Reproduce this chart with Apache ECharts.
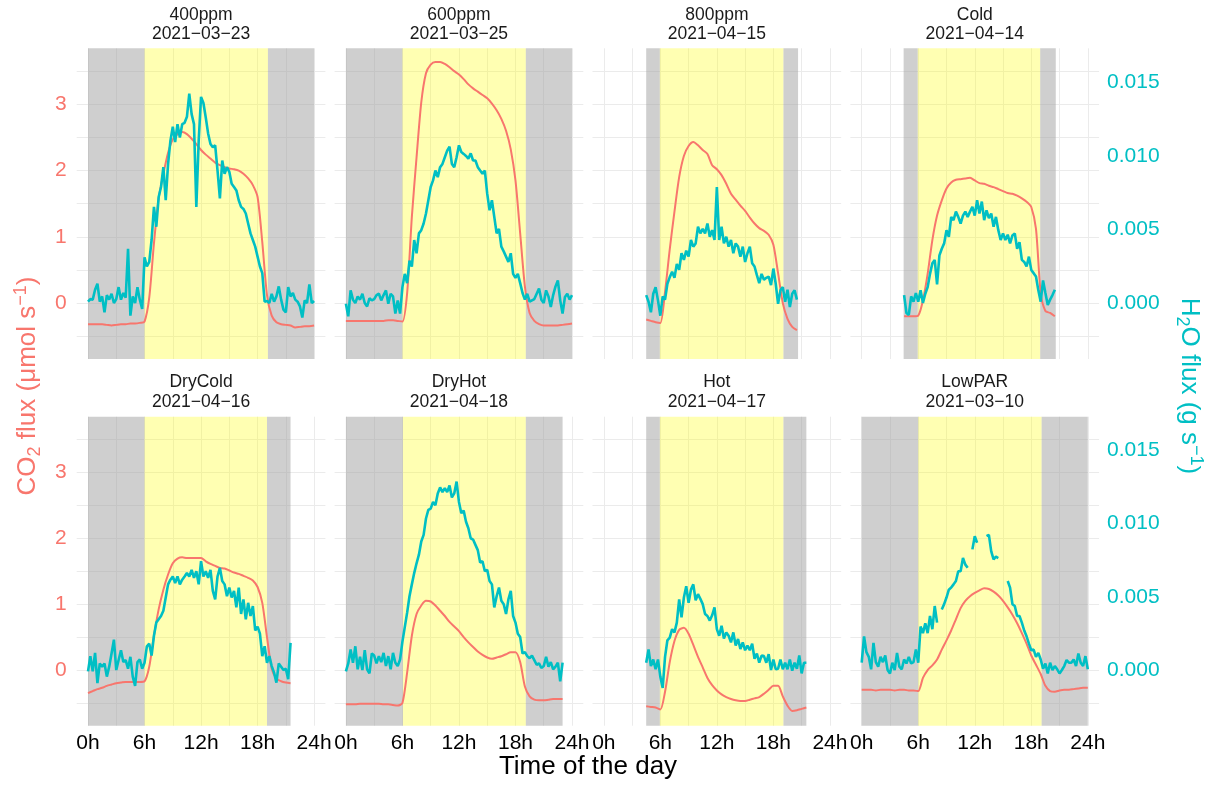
<!DOCTYPE html>
<html><head><meta charset="utf-8">
<script src="https://cdn.jsdelivr.net/npm/echarts@6/dist/echarts.min.js"></script>
<style>html,body{margin:0;padding:0;background:#fff}#c{width:1211px;height:785px}</style>
</head><body><div id="c"></div>
<script>
// ---------- data ----------
const panelNames = ['400ppm','600ppm','800ppm','Cold','DryCold','DryHot','Hot','LowPAR'];
const panelDates = ['2021−03−23','2021−03−25','2021−04−15','2021−04−14','2021−04−16','2021−04−18','2021−04−17','2021−03−10'];

// time (hours) of first sample for each panel; CO2 every 0.5 h, H2O every 0.25 h
const co2Start = [0, 0, 4.5, 4.5, 0, 0, 4.5, 0];
const h2oStart = [0, 0, 4.5, 4.5, 0, 0, 4.5, 0];
const co2Step = 0.5;
const h2oStep = 0.25;

// night / day periods (hours)
const nightStart = [0, 0, 4.5, 4.45, 0, 0, 4.5, 0];
const sunrise    = [6, 6, 5.95, 5.95, 6, 6.05, 5.95, 6];
const sunset     = [19.1, 19.1, 19.07, 18.95, 19.0, 19.1, 19.07, 19.1];
const nightEnd   = [24, 24, 20.62, 20.6, 21.5, 23, 21.5, 24];

// CO2 flux (µmol s-1)
const co2_400ppm = [-0.32,-0.32,-0.32,-0.32,-0.33,-0.34,-0.33,-0.32,-0.32,-0.31,-0.31,-0.3,-0.28,0.08,0.9,1.58,1.95,2.27,2.47,2.55,2.58,2.55,2.48,2.4,2.31,2.24,2.18,2.12,2.08,2.05,2.03,2.02,2.0,1.95,1.88,1.78,1.6,0.92,0.12,-0.19,-0.29,-0.32,-0.33,-0.34,-0.37,-0.36,-0.35,-0.35,-0.34];
const co2_600ppm = [-0.27,-0.27,-0.27,-0.27,-0.27,-0.27,-0.27,-0.27,-0.27,-0.26,-0.26,-0.27,-0.28,0.15,1.3,2.2,3.03,3.47,3.6,3.64,3.64,3.61,3.56,3.5,3.45,3.38,3.3,3.24,3.19,3.14,3.09,3.01,2.91,2.78,2.6,2.32,1.85,1.05,0.25,-0.15,-0.27,-0.32,-0.34,-0.34,-0.34,-0.34,-0.33,-0.32,-0.31];
const co2_800ppm = [-0.25,-0.27,-0.29,-0.3,0.17,0.81,1.38,1.9,2.22,2.37,2.43,2.38,2.31,2.25,2.08,2.02,1.93,1.8,1.65,1.56,1.47,1.39,1.29,1.2,1.13,1.09,1.03,0.88,0.45,0.0,-0.24,-0.36,-0.41];
const co2_Cold = [-0.2,-0.2,-0.2,-0.19,0.04,0.44,0.95,1.32,1.55,1.73,1.82,1.86,1.87,1.88,1.89,1.85,1.81,1.8,1.77,1.75,1.72,1.69,1.66,1.65,1.62,1.58,1.53,1.45,1.12,0.15,-0.12,-0.15,-0.2];
const co2_DryCold = [-0.35,-0.32,-0.29,-0.27,-0.24,-0.22,-0.2,-0.19,-0.18,-0.18,-0.18,-0.18,-0.17,0.05,0.52,0.92,1.22,1.45,1.62,1.69,1.71,1.7,1.7,1.7,1.7,1.65,1.61,1.58,1.55,1.54,1.51,1.48,1.46,1.43,1.4,1.36,1.26,1.02,0.5,0.02,-0.13,-0.17,-0.19,-0.2];
const co2_DryHot = [-0.52,-0.52,-0.52,-0.51,-0.51,-0.51,-0.51,-0.51,-0.52,-0.52,-0.53,-0.54,-0.5,-0.04,0.52,0.85,0.98,1.05,1.04,0.98,0.9,0.82,0.73,0.66,0.59,0.5,0.42,0.35,0.28,0.23,0.19,0.17,0.19,0.21,0.24,0.27,0.27,0.12,-0.25,-0.4,-0.45,-0.46,-0.46,-0.45,-0.44,-0.44,-0.44];
const co2_Hot = [-0.55,-0.56,-0.57,-0.6,-0.33,0.12,0.44,0.61,0.64,0.55,0.38,0.2,0.04,-0.12,-0.23,-0.31,-0.37,-0.41,-0.44,-0.46,-0.47,-0.47,-0.45,-0.43,-0.41,-0.36,-0.3,-0.24,-0.24,-0.4,-0.54,-0.62,-0.61,-0.59,-0.57];
const co2_LowPAR = [-0.3,-0.3,-0.3,-0.31,-0.3,-0.3,-0.3,-0.31,-0.3,-0.3,-0.31,-0.31,-0.32,-0.12,0.0,0.07,0.16,0.31,0.45,0.6,0.77,0.94,1.05,1.12,1.17,1.21,1.24,1.23,1.19,1.13,1.05,0.95,0.84,0.71,0.56,0.4,0.22,0.08,-0.06,-0.24,-0.32,-0.33,-0.31,-0.3,-0.3,-0.29,-0.28,-0.27,-0.27];

// H2O flux (g s-1)
const h2o_400ppm = [0.00009,0.00027,0.00023,0.0009,0.00131,0.00009,0.00045,-0.00063,0.00054,0.00023,0.00063,0,0.00027,0.00108,0.00023,0.00068,0.00036,0.00369,-0.00086,0.00045,0,0.00108,0.00023,-0.00041,0.00311,0.00248,0.00279,0.00428,0.00653,0.00518,0.0072,0.00788,0.00923,0.00698,0.00945,0.01103,0.01197,0.01094,0.01215,0.01125,0.01215,0.01224,0.01265,0.01422,0.01283,0.01215,0.00653,0.01103,0.014,0.01359,0.0126,0.01152,0.0108,0.01058,0.01071,0.009,0.00711,0.00968,0.00878,0.00923,0.00891,0.0081,0.00788,0.00765,0.00698,0.00653,0.00639,0.00608,0.0054,0.00473,0.00428,0.00383,0.00315,0.00248,0.00203,0.00009,0.00014,0,0.00063,0.00009,0.00045,0.00113,0.00023,-0.00045,-0.00063,0.00108,0.00045,0.00068,0.00023,0.00009,-0.00023,-0.00099,0.00018,0,0.00126,0,0.00014];
const h2o_600ppm = [-0.00005,-0.0009,0.00086,0.00023,0,0.00045,0.00023,0.00063,0,-0.00023,0.00032,0.00018,0.00027,0.00054,0.00063,0.00018,0.00054,0.00086,-0.00005,0.00063,0.00045,-0.00072,0.00018,-0.00072,0.00108,0.00198,0.00135,0.00288,0.00248,0.00428,0.00338,0.00473,0.00495,0.0054,0.00608,0.00698,0.00788,0.00833,0.009,0.00855,0.00923,0.00945,0.0099,0.01035,0.01062,0.00945,0.00923,0.0099,0.01071,0.01026,0.01013,0.00999,0.00981,0.01017,0.00968,0.00968,0.00923,0.009,0.00878,0.009,0.00743,0.0063,0.00698,0.00585,0.00473,0.00504,0.00383,0.00351,0.00315,0.00279,0.00338,0.00198,0.00171,0.00198,0.00135,0.00068,0.00023,0.00063,0.00009,0.00018,0.00027,0.00063,0.00099,0.00023,0,0.00086,0.00045,-0.00027,0.00054,0.00113,0.00153,0.00018,-0.00072,0.00041,0.00063,0.00023,0.00054];
const h2o_800ppm = [0.00054,0.00009,-0.00063,0.00063,0.00108,0.00018,-0.00086,0.00045,0.00023,0.00131,0.00176,0.00212,0.00171,0.00266,0.00225,0.00338,0.00293,0.00356,0.00315,0.00428,0.00383,0.00405,0.00518,0.00473,0.00504,0.00473,0.0054,0.0045,0.00495,0.00428,0.00788,0.00428,0.00518,0.00405,0.0045,0.00383,0.00428,0.00338,0.00405,0.00383,0.00315,0.00383,0.00279,0.00338,0.00383,0.0027,0.00248,0.00189,0.00135,0.00198,0.00158,0.00171,0.0018,0.00122,0.00234,0.00131,-0.00005,0.00086,0.00108,0.00009,0.0009,-0.00027,0.00063,0.00086,0.00023];
const h2o_Cold = [0.00054,-0.00068,-0.00081,0.00045,0.00009,0.00068,0.00009,0.00086,0,0.00063,0.00108,0.00198,0.0027,0.00293,0.00126,0.00324,0.00369,0.00405,0.00495,0.0045,0.00585,0.00563,0.00621,0.00585,0.0054,0.00594,0.00621,0.00585,0.00621,0.00653,0.00594,0.00698,0.00608,0.00689,0.00563,0.0063,0.00576,0.00608,0.00518,0.00585,0.00495,0.00428,0.00473,0.00428,0.00464,0.00405,0.00459,0.00473,0.00369,0.00414,0.00293,0.00279,0.00248,0.00315,0.00225,0.00203,0.0018,0.00086,0.00009,0.00153,0.00068,-0.00014,0.00023,0.00054,0.0009];
const h2o_DryCold = [-0.00009,0.00095,-0.00009,0.00117,-0.0009,0.00045,0.00023,0.00045,-0.00045,0.00023,0.00113,0.00207,0,0.00068,0.00135,0.00054,0.00068,0.00009,0.0009,-0.00045,-0.00108,0.00054,0.00072,0.00009,0.0005,0.00162,0.0018,0.00099,0.00234,0.00324,0.00347,0.00369,0.00405,0.00495,0.00585,0.00617,0.00639,0.00594,0.00639,0.00585,0.00617,0.00639,0.00662,0.00639,0.00684,0.0063,0.00675,0.00585,0.00743,0.00639,0.00675,0.0063,0.00684,0.0054,0.00482,0.00639,0.00698,0.00608,0.00585,0.00504,0.00563,0.00495,0.0054,0.00428,0.00563,0.00383,0.00482,0.00347,0.00459,0.00369,0.00437,0.0027,0.00297,0.00248,0.00095,0.00162,0.0005,0.00095,0.00027,-0.00018,-0.00086,0.00045,0.00023,0,0.00009,-0.00063,0.00185];
const h2o_DryHot = [-0.00009,0.00045,0.0014,0.0005,0.00162,0.00005,0.0009,0,0.00135,0.00005,-0.00023,0.00113,0.00099,0.00045,0.00095,0.00054,0.00117,0.00027,0.00095,0.00005,0.00117,0.0005,0.00027,0.00072,0.00194,0.00293,0.00392,0.00504,0.00585,0.00662,0.00729,0.00788,0.00878,0.00923,0.01035,0.01094,0.01103,0.01148,0.01125,0.01206,0.01247,0.01215,0.01242,0.01215,0.0126,0.01179,0.01206,0.01287,0.01148,0.01071,0.01089,0.01013,0.00968,0.009,0.00891,0.00855,0.00819,0.00734,0.00743,0.00675,0.00684,0.00608,0.00585,0.00428,0.00504,0.00563,0.00473,0.0045,0.00383,0.00482,0.0054,0.00369,0.00324,0.00248,0.00225,0.00113,0.00122,0.00095,0.00081,0.00099,0.00068,0.00036,0.00045,0.00014,0.00027,0.0009,0.00023,0.00054,0.00005,0.00023,0.0005,-0.00077,0.0005];
const h2o_Hot = [0.0005,0.0014,0.00027,0.00072,0.00005,0.00072,-0.00045,-0.00122,0.0009,0.00203,0.00221,0.00279,0.00257,0.00324,0.00482,0.0036,0.00495,0.00572,0.00459,0.00549,0.00585,0.00477,0.00518,0.00486,0.0045,0.00383,0.00369,0.00338,0.00374,0.00428,0.00279,0.00234,0.00302,0.00216,0.00257,0.00234,0.00189,0.00257,0.00167,0.00212,0.00144,0.00189,0.00135,0.00167,0.00135,0.0018,0.00077,0.00113,0.0005,0.00099,0.00095,0.0005,0.00108,0,0.00072,0.00005,0.00009,0.00072,0.00005,0.0005,0.00005,0.00072,-0.00005,0.0005,0.00009,0.00099,-0.00023,0.0005,0.0005];
const h2o_LowPAR = [0.0005,0.0023,0.00122,0.0009,0.00005,0.00185,0.00054,0.00023,0.0009,0.00054,0.00099,0,-0.00023,0.0005,0,0.00117,0.00023,0.00005,0.00072,0.00045,0.0009,0.00045,0.00054,0.0014,0.0005,0.00297,0.00252,0.0032,0.00252,0.00369,0.00279,0.00437,0.00324,null,0.00414,0.0045,0.00495,0.00549,0.00563,0.00585,0.00608,0.00675,0.00675,0.00765,0.0072,0.00698,null,0.00824,0.00914,0.00869,null,null,null,0.00914,0.00923,0.0081,0.00756,0.00774,0.00765,null,null,null,0.00608,0.00563,0.0045,0.00437,0.00369,0.00369,0.00324,0.0027,0.0023,0.0018,0.00135,0.0014,0.0009,0.00117,0.00072,0.00009,0.00045,-0.00023,0.0005,0,0.00027,0.00005,-0.00023,0,0.00027,0.00068,0.0005,0.0005,0.00072,0.00027,0.00113,0.0005,0.00027,0.00095,0.00005];

const co2Series = [co2_400ppm, co2_600ppm, co2_800ppm, co2_Cold, co2_DryCold, co2_DryHot, co2_Hot, co2_LowPAR];
const h2oSeries = [h2o_400ppm, h2o_600ppm, h2o_800ppm, h2o_Cold, h2o_DryCold, h2o_DryHot, h2o_Hot, h2o_LowPAR];

// axis ticks
const xGridHours = [0, 3, 6, 9, 12, 15, 18, 21, 24];
const xLabelHours = [0, 6, 12, 18, 24];
const co2Grid = [-0.5, 0, 0.5, 1, 1.5, 2, 2.5, 3, 3.5];
const co2Labels = [0, 1, 2, 3];
const h2oLabels = [0, 0.005, 0.010, 0.015];

// ---------- layout / style ----------
const FONT = "'Liberation Sans', Arial, Helvetica, sans-serif";
const RED = '#F8766D', CYAN = '#00BFC4';
const PANEL_LEFT0 = 76.7, PANEL_STEP = 257.9, PANEL_W = 248.7;
const ROW_TOP = [48.3, 416.7], ROW_H = [310.7, 309];
const X_MIN = -1.2, X_MAX = 25.2;
const Y_MIN = -0.845, Y_MAX = 3.845;
const H2O_PER_CO2 = 0.0045;

const grids = [], xAxes = [], yAxes = [], series = [], graphics = [];

for (let i = 0; i < 8; i++) {
  const col = i % 4, row = Math.floor(i / 4);
  const left = PANEL_LEFT0 + PANEL_STEP * col;
  grids.push({ left: left, top: ROW_TOP[row], width: PANEL_W, height: ROW_H[row] });

  xAxes.push({
    gridIndex: i, type: 'value', min: X_MIN, max: X_MAX,
    axisLine: { show: false },
    axisTick: { show: false, customValues: xGridHours },
    axisLabel: {
      show: row === 1, customValues: xLabelHours, formatter: v => v + 'h',
      color: '#000', fontSize: 21, fontFamily: FONT, margin: 7
    },
    splitLine: { show: true, lineStyle: { color: '#EBEBEB', width: 1 } }
  });
  yAxes.push({
    gridIndex: i, type: 'value', min: Y_MIN, max: Y_MAX, position: 'left',
    axisLine: { show: false },
    axisTick: { show: false, customValues: co2Grid },
    axisLabel: {
      show: col === 0, customValues: co2Labels, color: RED,
      fontSize: 21, fontFamily: FONT, margin: 10
    },
    splitLine: { show: true, lineStyle: { color: '#EBEBEB', width: 1 } }
  });
  yAxes.push({
    gridIndex: i, type: 'value', position: 'right',
    min: Y_MIN * H2O_PER_CO2, max: Y_MAX * H2O_PER_CO2,
    axisLine: { show: false },
    axisTick: { show: false, customValues: h2oLabels },
    axisLabel: {
      show: col === 3, customValues: h2oLabels, color: CYAN,
      formatter: v => v.toFixed(3), fontSize: 21, fontFamily: FONT, margin: 8
    },
    splitLine: { show: false }
  });

  const co2 = co2Series[i].map((v, k) => [co2Start[i] + k * co2Step, v]);
  const h2o = h2oSeries[i].map((v, k) => [h2oStart[i] + k * h2oStep, v]);

  series.push({
    type: 'line', xAxisIndex: i, yAxisIndex: 2 * i, data: co2,
    showSymbol: false, smooth: 0.25, z: 3,
    lineStyle: { color: RED, width: 2 }, itemStyle: { color: RED },
    markArea: {
      silent: true,
      data: [
        [{ xAxis: nightStart[i], itemStyle: { color: 'rgba(160,160,160,0.5)' } }, { xAxis: sunrise[i] }],
        [{ xAxis: sunrise[i], itemStyle: { color: 'rgba(255,255,0,0.3)' } }, { xAxis: sunset[i] }],
        [{ xAxis: sunset[i], itemStyle: { color: 'rgba(160,160,160,0.5)' } }, { xAxis: nightEnd[i] }]
      ]
    }
  });
  series.push({
    type: 'line', xAxisIndex: i, yAxisIndex: 2 * i + 1, data: h2o,
    showSymbol: false, connectNulls: false, z: 4,
    lineStyle: { color: CYAN, width: 2.6 }, itemStyle: { color: CYAN }
  });

  graphics.push({
    type: 'text', x: left + PANEL_W / 2, y: row === 0 ? 24.5 : 392.3,
    style: {
      text: panelNames[i] + '\n' + panelDates[i],
      align: 'center', verticalAlign: 'middle', textAlign: 'center', textVerticalAlign: 'middle',
      fontSize: 17.5, lineHeight: 19.5, fontFamily: FONT, fill: '#1A1A1A'
    }
  });
}

function richStyles(color) {
  return {
    n: { fontSize: 26, lineHeight: 32, fontFamily: FONT, fill: color },
    sub: { fontSize: 18, lineHeight: 14, verticalAlign: 'bottom', fontFamily: FONT, fill: color },
    sup: { fontSize: 18, lineHeight: 14, verticalAlign: 'top', fontFamily: FONT, fill: color }
  };
}

graphics.push({
  type: 'text', x: 588, y: 767,
  style: {
    text: 'Time of the day', align: 'center', verticalAlign: 'middle',
    textAlign: 'center', textVerticalAlign: 'middle',
    fontSize: 26, fontFamily: FONT, fill: '#000'
  }
});
graphics.push({
  type: 'text', x: 28, y: 386, rotation: Math.PI / 2,
  style: {
    text: '{n|CO}{sub|2}{n| flux (μmol s}{sup|−1}{n|)}',
    rich: richStyles(RED), align: 'center', verticalAlign: 'middle',
    textAlign: 'center', textVerticalAlign: 'middle', fill: RED, fontSize: 26, fontFamily: FONT
  }
});
graphics.push({
  type: 'text', x: 1189, y: 386, rotation: -Math.PI / 2,
  style: {
    text: '{n|H}{sub|2}{n|O flux (g s}{sup|−1}{n|)}',
    rich: richStyles(CYAN), align: 'center', verticalAlign: 'middle',
    textAlign: 'center', textVerticalAlign: 'middle', fill: CYAN, fontSize: 26, fontFamily: FONT
  }
});

const chart = echarts.init(document.getElementById('c'), null, { renderer: 'canvas' });
chart.setOption({
  animation: false,
  backgroundColor: '#fff',
  grid: grids, xAxis: xAxes, yAxis: yAxes, series: series, graphic: graphics
});
</script></body></html>
